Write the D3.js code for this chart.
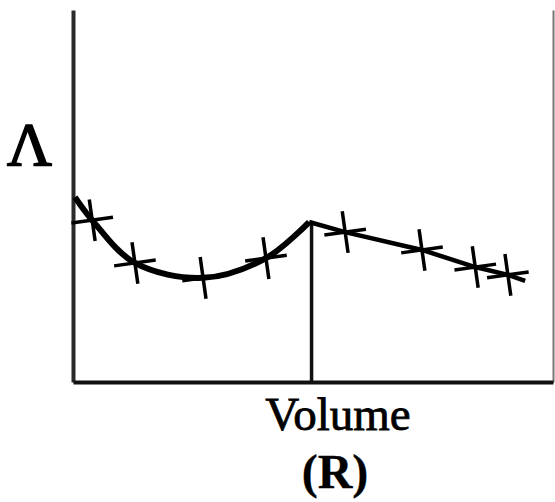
<!DOCTYPE html>
<html lang="en">
<head>
  <meta charset="UTF-8">
  <title>Lambda vs Volume (R)</title>
  <script src="https://d3js.org/d3.v7.min.js"></script>
  <style>
    body { margin: 0; background: #fff; }
    svg { display: block; }
    .lbl { font-family: "Liberation Serif", "DejaVu Serif", serif; fill: #000; stroke: #000; }
  </style>
</head>
<body>
  <div id="chart"></div>
  <script>
    // curved branch (low volume side), ends at the cusp
    const lowVolume  = [0.04, 0.40, 1.29, 2.71, 4.02, 4.92];
    const lowLambda  = [4.97, 4.35, 3.20, 2.80, 3.33, 4.30];
    // straight branch (high volume side)
    const highVolume = [4.92, 5.67, 7.27, 8.38, 9.06, 9.42];
    const highLambda = [4.30, 4.03, 3.55, 3.09, 2.88, 2.72];
    // cross markers
    const markVolume = [0.40, 1.29, 2.71, 4.02, 5.67, 7.27, 8.38, 9.06];
    const markLambda = [4.35, 3.20, 2.80, 3.33, 4.03, 3.55, 3.09, 2.88];
    const transitionVolume = 4.97;

    const width = 555, height = 502;
    const plotLeft = 73, plotRight = 553, plotTop = 10, plotBottom = 382;

    const svg = d3.select("#chart").append("svg")
      .attr("width", width)
      .attr("height", height);

    const x = d3.scaleLinear().domain([0, 10]).range([plotLeft, plotRight]);
    const y = d3.scaleLinear().domain([0, 10]).range([plotBottom, plotTop]);

    // axes, no ticks
    svg.append("g")
      .attr("transform", `translate(${plotLeft},0)`)
      .call(d3.axisLeft(y).ticks(0).tickSizeOuter(0))
      .select(".domain").attr("stroke", "#2a2a2a").attr("stroke-width", 4);

    svg.append("g")
      .attr("transform", `translate(${plotRight},0)`)
      .call(d3.axisRight(y).ticks(0).tickSizeOuter(0))
      .select(".domain").attr("stroke", "#777").attr("stroke-width", 2);

    svg.append("g")
      .attr("transform", `translate(0,${plotBottom})`)
      .call(d3.axisBottom(x).ticks(0).tickSizeOuter(0))
      .select(".domain").attr("stroke", "#111").attr("stroke-width", 4);

    // vertical line at the transition
    svg.append("line")
      .attr("x1", x(transitionVolume)).attr("x2", x(transitionVolume))
      .attr("y1", y(lowLambda[lowLambda.length - 1])).attr("y2", y(0))
      .attr("stroke", "#111").attr("stroke-width", 3.5);

    const low = lowVolume.map((v, i) => [v, lowLambda[i]]);
    const high = highVolume.map((v, i) => [v, highLambda[i]]);

    svg.append("path")
      .datum(low)
      .attr("fill", "none")
      .attr("stroke", "#000")
      .attr("stroke-width", 6)
      .attr("d", d3.line().x(d => x(d[0])).y(d => y(d[1])).curve(d3.curveCatmullRom.alpha(0.5)));

    svg.append("path")
      .datum(high)
      .attr("fill", "none")
      .attr("stroke", "#000")
      .attr("stroke-width", 4.5)
      .attr("d", d3.line().x(d => x(d[0])).y(d => y(d[1])));

    // cross markers
    svg.selectAll(".mark")
      .data(markVolume.map((v, i) => [v, markLambda[i]]))
      .enter().append("path")
      .attr("class", "mark")
      .attr("transform", d => `translate(${x(d[0])},${y(d[1])}) rotate(-8)`)
      .attr("d", "M-21,0L21,0M0,-21L0,21")
      .attr("stroke", "#000")
      .attr("stroke-width", 3.5)
      .attr("fill", "none");

    // labels
    svg.append("text")
      .attr("class", "lbl")
      .attr("x", 7).attr("y", 165)
      .attr("font-size", 62)
      .attr("stroke-width", 1.6)
      .text("Λ");

    svg.append("text")
      .attr("class", "lbl")
      .attr("x", 338).attr("y", 430)
      .attr("text-anchor", "middle")
      .attr("font-size", 47)
      .attr("stroke-width", 0.8)
      .text("Volume");

    svg.append("text")
      .attr("class", "lbl")
      .attr("x", 335).attr("y", 488)
      .attr("text-anchor", "middle")
      .attr("font-size", 48)
      .attr("font-weight", "bold")
      .attr("stroke-width", 0.3)
      .text("(R)");
  </script>
</body>
</html>
